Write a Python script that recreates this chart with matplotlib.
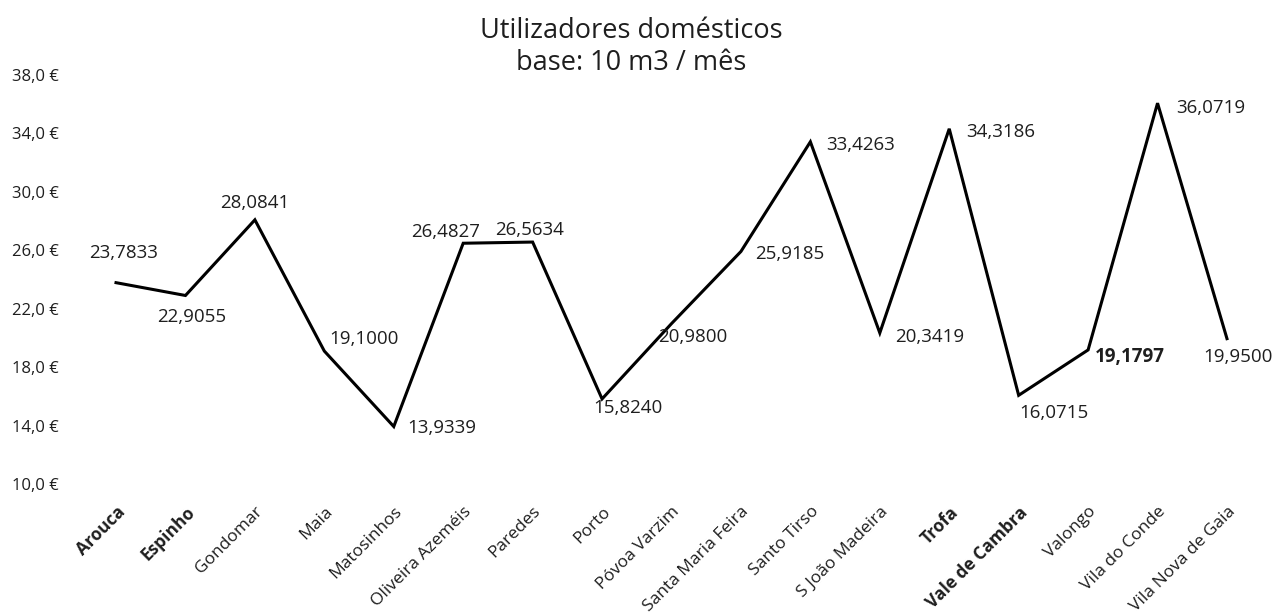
import matplotlib
matplotlib.use("Agg")
import matplotlib.pyplot as plt

plt.rcParams['font.family'] = ['Open Sans', 'DejaVu Sans']

categories = ["Arouca", "Espinho", "Gondomar", "Maia", "Matosinhos", "Oliveira Azeméis",
              "Paredes", "Porto", "Póvoa Varzim", "Santa Maria Feira", "Santo Tirso",
              "S João Madeira", "Trofa", "Vale de Cambra", "Valongo", "Vila do Conde",
              "Vila Nova de Gaia"]
values = [23.7833, 22.9055, 28.0841, 19.1000, 13.9339, 26.4827, 26.5634, 15.8240,
          20.9800, 25.9185, 33.4263, 20.3419, 34.3186, 16.0715, 19.1797, 36.0719, 19.9500]
y_ticks = [10, 14, 18, 22, 26, 30, 34, 38]
bold_categories = ["Arouca", "Espinho", "Trofa", "Vale de Cambra"]
bold_value_labels = ["Valongo"]
title_line1 = "Utilizadores domésticos"
title_line2 = "base: 10 m3 / mês"

# label offsets in pixels (dx, dy)
label_offsets = [(8, 30), (6, -22), (0, 17), (40, 12), (48, -1), (-18, 11), (-3, 12),
                 (26, -9), (21, -13), (49, -3), (50, -3), (50, -4), (51, -3), (35, -18),
                 (42, -7), (53, -5), (11, -18)]

TXT = "#1e1e1e"
W, H = 1277, 614
fig = plt.figure(figsize=(W / 100, H / 100), dpi=100)
left, right, top, bottom = 81.3, 1261.7, 75, 484
ax = fig.add_axes([left / W, 1 - bottom / H, (right - left) / W, (bottom - top) / H])

x = list(range(len(categories)))
ax.plot(x, values, color="black", lw=2.2, solid_joinstyle="miter")
ax.set_xlim(-0.5, len(categories) - 0.5)
ax.set_ylim(10, 38)

for s in ax.spines.values():
    s.set_visible(False)

ax.set_yticks(y_ticks)
ax.set_yticklabels([f"{v:.1f} €".replace(".", ",") for v in y_ticks], fontsize=12, color=TXT)
ax.tick_params(axis="y", length=0, pad=16)

ax.set_xticks(x)
ax.set_xticklabels(categories, fontsize=12.5, color=TXT)
ax.tick_params(axis="x", length=0, pad=14)
for lab in ax.get_xticklabels():
    lab.set_rotation(45)
    lab.set_ha("right")
    lab.set_va("top")
    lab.set_rotation_mode("anchor")
    if lab.get_text() in bold_categories:
        lab.set_fontweight("bold")

for i, (c, v) in enumerate(zip(categories, values)):
    dx, dy = label_offsets[i]
    ax.annotate(f"{v:.4f}".replace(".", ","), (i, v), xytext=(dx, dy),
                textcoords="offset pixels", ha="center", va="center",
                fontsize=13.5, color=TXT,
                fontweight="bold" if c in bold_value_labels else "normal")

fig.text(631 / W, 1 - 38 / H, title_line1, ha="center", va="baseline", fontsize=19.5, color=TXT)
fig.text(631 / W, 1 - 70 / H, title_line2, ha="center", va="baseline", fontsize=19.5, color=TXT)

fig.savefig("out.png", dpi=100)
